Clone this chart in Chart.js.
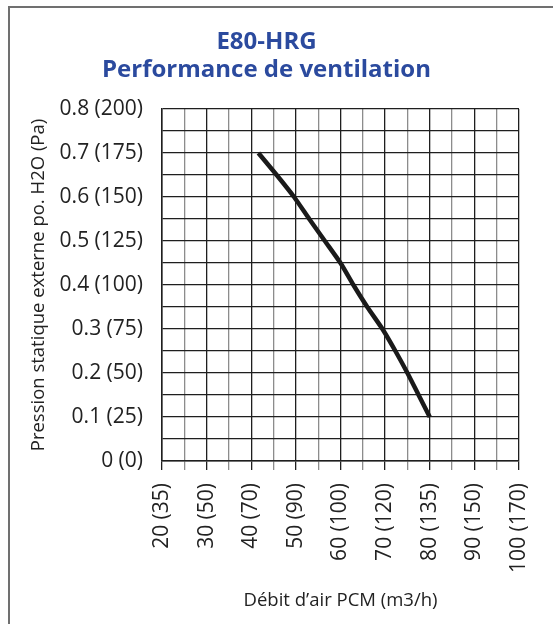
<!DOCTYPE html>
<html lang="fr">
<head>
<meta charset="utf-8">
<title>E80-HRG Performance de ventilation</title>
<script src="https://cdn.jsdelivr.net/npm/chart.js@4.4.1/dist/chart.umd.min.js"></script>
<style>
    html, body { margin: 0; padding: 0; background: #fff; overflow: hidden; }
    #wrap { position: relative; width: 553px; height: 624px; }
    #frame {
        position: absolute; left: 8px; top: 6px; right: -10px; bottom: -10px;
        border-left: 2px solid #707070; border-top: 2px solid #707070;
        pointer-events: none;
    }
    canvas { position: absolute; left: 0; top: 0; }
</style>
</head>
<body>
<div id="wrap">
    <canvas id="perfChart" width="553" height="624"></canvas>
    <div id="frame"></div>
</div>
<script>
// Débit d'air (PCM) et pression statique (po. H2O)
const flowCfm = [41.6, 45.7, 49.6, 53.0, 56.5, 60.0, 62.9, 66.0, 69.4, 72.3, 75.0, 77.5, 80.0];
const pressureInH2O = [0.70, 0.65, 0.60, 0.55, 0.50, 0.45, 0.40, 0.35, 0.30, 0.25, 0.20, 0.15, 0.10];

// Étiquettes des axes : valeur principale et équivalent entre parenthèses
const xTickCfm = [20, 30, 40, 50, 60, 70, 80, 90, 100];
const xTickM3h = [35, 50, 70, 90, 100, 120, 135, 150, 170];
const yTickInH2O = [0, 0.1, 0.2, 0.3, 0.4, 0.5, 0.6, 0.7, 0.8];
const yTickPa = [0, 25, 50, 75, 100, 125, 150, 175, 200];

const darkGrid = '#1f1f1f';
const lightGrid = '#8c8c8c';
const fontName = "'Open Sans', sans-serif";
const labelFont = { family: fontName, size: 21 };

document.addEventListener('DOMContentLoaded', function () {
    const ctx = document.getElementById('perfChart').getContext('2d');

    const isMajorX = v => xTickCfm.includes(v);

    new Chart(ctx, {
        type: 'line',
        data: {
            datasets: [{
                data: flowCfm.map((x, i) => ({ x: x, y: pressureInH2O[i] })),
                borderColor: '#1a1a1a',
                borderWidth: 4.5,
                pointRadius: 0,
                tension: 0.2,
                fill: false
            }]
        },
        options: {
            responsive: false,
            animation: false,
            events: [],
            layout: { padding: { left: 14, right: 34, top: 0, bottom: 0 } },
            plugins: {
                legend: { display: false },
                tooltip: { enabled: false },
                title: {
                    display: true,
                    text: ['E80-HRG', 'Performance de ventilation'],
                    color: '#2b4a9e',
                    font: { family: fontName, size: 24, weight: 'bold', lineHeight: 28 / 24 },
                    padding: { top: 28, bottom: 25 }
                }
            },
            scales: {
                x: {
                    type: 'linear',
                    min: 20,
                    max: 100,
                    afterFit: scale => {
                        scale.height = 163;
                        scale.paddingLeft = 0;
                        scale.paddingRight = 0;
                    },
                    border: { display: true, color: darkGrid, width: 1.5 },
                    grid: {
                        drawTicks: true,
                        tickLength: 9,
                        color: c => isMajorX(c.tick.value) ? darkGrid : lightGrid,
                        tickColor: c => isMajorX(c.tick.value) ? darkGrid : lightGrid,
                        lineWidth: 1.3
                    },
                    ticks: {
                        stepSize: 5,
                        autoSkip: false,
                        minRotation: 90,
                        maxRotation: 90,
                        padding: 13,
                        color: '#222',
                        font: labelFont,
                        callback: v => {
                            const i = xTickCfm.indexOf(v);
                            return i >= 0 ? `${v} (${xTickM3h[i]})` : '';
                        }
                    },
                    title: {
                        display: true,
                        text: 'Débit d\u2019air PCM (m3/h)',
                        color: '#222',
                        font: { family: fontName, size: 18.5 },
                        padding: { top: 0, bottom: 12 }
                    }
                },
                y: {
                    type: 'linear',
                    min: 0,
                    max: 0.8,
                    afterFit: scale => {
                        scale.width = 148;
                        scale.paddingTop = 0;
                        scale.paddingBottom = 0;
                    },
                    border: { display: true, color: darkGrid, width: 1.5 },
                    grid: {
                        drawTicks: false,
                        color: darkGrid,
                        lineWidth: 1.3
                    },
                    ticks: {
                        stepSize: 0.05,
                        autoSkip: false,
                        padding: 19,
                        color: '#222',
                        font: labelFont,
                        callback: v => {
                            const i = yTickInH2O.findIndex(t => Math.abs(t - v) < 1e-6);
                            return i >= 0 ? `${yTickInH2O[i]} (${yTickPa[i]})` : '';
                        }
                    },
                    title: {
                        display: true,
                        text: 'Pression statique externe po. H2O (Pa)',
                        color: '#222',
                        font: { family: fontName, size: 18.5 },
                        padding: { top: 14, bottom: 0 }
                    }
                }
            }
        }
    });
});
</script>
</body>
</html>
